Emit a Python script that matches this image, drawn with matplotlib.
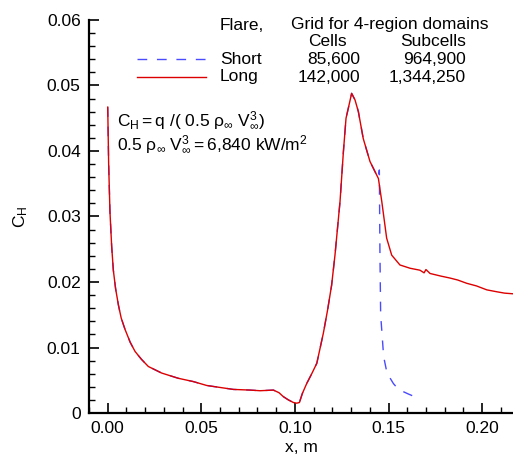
import matplotlib
matplotlib.use("Agg")
import matplotlib.pyplot as plt
from matplotlib.ticker import MultipleLocator, FixedLocator

plt.rcParams['font.family'] = ['Liberation Sans', 'DejaVu Sans']
plt.rcParams['mathtext.fontset'] = 'custom'
plt.rcParams['mathtext.rm'] = 'Liberation Sans'
plt.rcParams['mathtext.it'] = 'Liberation Sans'

# Long flare (red, solid)
x_long = [0.0, 0.0005, 0.0012, 0.0021, 0.0030, 0.0042, 0.0057, 0.0072, 0.0092, 0.0120,
          0.0146, 0.0180, 0.0217, 0.0288, 0.0377, 0.0457, 0.0529, 0.0671, 0.0760, 0.0814,
          0.0885, 0.0915, 0.0938, 0.0965, 0.0992, 0.1010, 0.1024, 0.1040, 0.1063, 0.1090,
          0.1117, 0.1152, 0.1175, 0.1196, 0.1214, 0.1241, 0.1259, 0.1273, 0.1285, 0.1303,
          0.1321, 0.1339, 0.1365, 0.1401, 0.1446, 0.1464, 0.1490, 0.1517, 0.1561, 0.1615,
          0.1668, 0.1690, 0.1700, 0.1722, 0.1780, 0.1829, 0.1870, 0.1918, 0.1970, 0.2025,
          0.2080, 0.2120, 0.2165]
ch_long = [0.0467, 0.0380, 0.0307, 0.0255, 0.0218, 0.0190, 0.0165, 0.0145, 0.0128, 0.0108,
           0.0094, 0.0082, 0.0071, 0.0061, 0.0053, 0.0048, 0.0042, 0.0036, 0.0035, 0.0034,
           0.0035, 0.0031, 0.0025, 0.0020, 0.0016, 0.0015, 0.0016, 0.0030, 0.0045, 0.0060,
           0.0076, 0.0122, 0.0158, 0.0195, 0.0241, 0.0323, 0.0399, 0.0450, 0.0465, 0.0488,
           0.0478, 0.0460, 0.0419, 0.0384, 0.0358, 0.0323, 0.0267, 0.0241, 0.0226, 0.0221,
           0.0218, 0.0214, 0.0219, 0.0213, 0.0209, 0.0206, 0.0203, 0.0198, 0.0194, 0.0188,
           0.0185, 0.0183, 0.0182]

# Short flare (blue, dashed)
x_short = [0.0, 0.0005, 0.0012, 0.0021, 0.0030, 0.0042, 0.0057, 0.0072, 0.0092, 0.0120,
           0.0146, 0.0180, 0.0217, 0.0288, 0.0377, 0.0457, 0.0529, 0.0671, 0.0760, 0.0814,
           0.0885, 0.0915, 0.0938, 0.0965, 0.0992, 0.1010, 0.1024, 0.1040, 0.1063, 0.1090,
           0.1117, 0.1152, 0.1175, 0.1196, 0.1214, 0.1241, 0.1259, 0.1273, 0.1285, 0.1303,
           0.1321, 0.1339, 0.1365, 0.1401, 0.1446, 0.1451, 0.1454, 0.1458, 0.1474, 0.1492,
           0.1526, 0.1553, 0.1606, 0.1647]
ch_short = [0.0467, 0.0380, 0.0307, 0.0255, 0.0218, 0.0190, 0.0165, 0.0145, 0.0128, 0.0108,
            0.0094, 0.0082, 0.0071, 0.0061, 0.0053, 0.0048, 0.0042, 0.0036, 0.0035, 0.0034,
            0.0035, 0.0031, 0.0025, 0.0020, 0.0016, 0.0015, 0.0016, 0.0030, 0.0045, 0.0060,
            0.0076, 0.0122, 0.0158, 0.0195, 0.0241, 0.0323, 0.0399, 0.0450, 0.0465, 0.0488,
            0.0478, 0.0460, 0.0419, 0.0384, 0.0358, 0.0371, 0.0250, 0.0150, 0.0086, 0.0061,
            0.0045, 0.0036, 0.0029, 0.0024]

flare_names = ["Short", "Long"]
cells = ["85,600", "142,000"]
subcells = ["964,900", "1,344,250"]

FS = 12.5

fig = plt.figure(figsize=(5.13, 4.57), dpi=100)
ax = fig.add_axes([89/513, 44/457, 424/513, 393/457])

ax.plot(x_short, ch_short, color='#4a4aff', lw=1.0, dashes=(7, 7))
ax.plot(x_long, ch_long, color='#dd0000', lw=1.0)

ax.set_xlim(-0.01, 0.2165)
ax.set_ylim(0, 0.06)

ax.xaxis.set_major_locator(FixedLocator([0.0, 0.05, 0.10, 0.15, 0.20]))
ax.xaxis.set_minor_locator(MultipleLocator(0.01))
ax.yaxis.set_minor_locator(MultipleLocator(0.002))
ax.set_xticklabels(["0.00", "0.05", "0.10", "0.15", "0.20"])
ax.set_yticks([0, 0.01, 0.02, 0.03, 0.04, 0.05, 0.06])
ax.set_yticklabels(["0", "0.01", "0.02", "0.03", "0.04", "0.05", "0.06"])

for s in ['top', 'right']:
    ax.spines[s].set_visible(False)
for s in ['left', 'bottom']:
    ax.spines[s].set_linewidth(1.6)
ax.tick_params(which='major', direction='in', length=7.5, width=1.2, labelsize=FS, pad=6)
ax.tick_params(which='minor', direction='in', length=4.5, width=1.0)

ax.set_xlabel("x, m", fontsize=FS, labelpad=3)
ax.set_ylabel(r"$\mathrm{C_H}$", fontsize=FS, labelpad=12)

# legend block
fig.text(220/513, 1-25/457, "Flare,", fontsize=FS, va='center', ha='left')
fig.text(291/513, 1-25/457, "Grid for 4-region domains", fontsize=FS, va='center', ha='left')
fig.text(327/513, 1-41/457, "Cells", fontsize=FS, va='center', ha='center')
fig.text(433/513, 1-41/457, "Subcells", fontsize=FS, va='center', ha='center')
row_y = [59, 77]
styles = [dict(color='#4a4aff', lw=1.0, dashes=(7, 7)), dict(color='#dd0000', lw=1.0)]
for i in range(2):
    yy = 1 - row_y[i]/457
    fig.add_artist(plt.Line2D([137/513, 206/513], [yy, yy], transform=fig.transFigure, **styles[i]))
    fig.text(220/513, yy, flare_names[i], fontsize=FS, va='center', ha='left')
    fig.text(360/513, yy, cells[i], fontsize=FS, va='center', ha='right')
    fig.text(466/513, yy, subcells[i], fontsize=FS, va='center', ha='right')

fig.text(117/513, 1-121/457, r"$\mathrm{C_H = q\ /(\ 0.5\ \rho_\infty\ V_\infty^3)}$",
         fontsize=FS, va='center', ha='left')
fig.text(117/513, 1-145/457, r"$\mathrm{0.5\ \rho_\infty\ V_\infty^3 = 6{,}840\ kW/m^2}$",
         fontsize=FS, va='center', ha='left')

fig.savefig("out.png", dpi=100)
